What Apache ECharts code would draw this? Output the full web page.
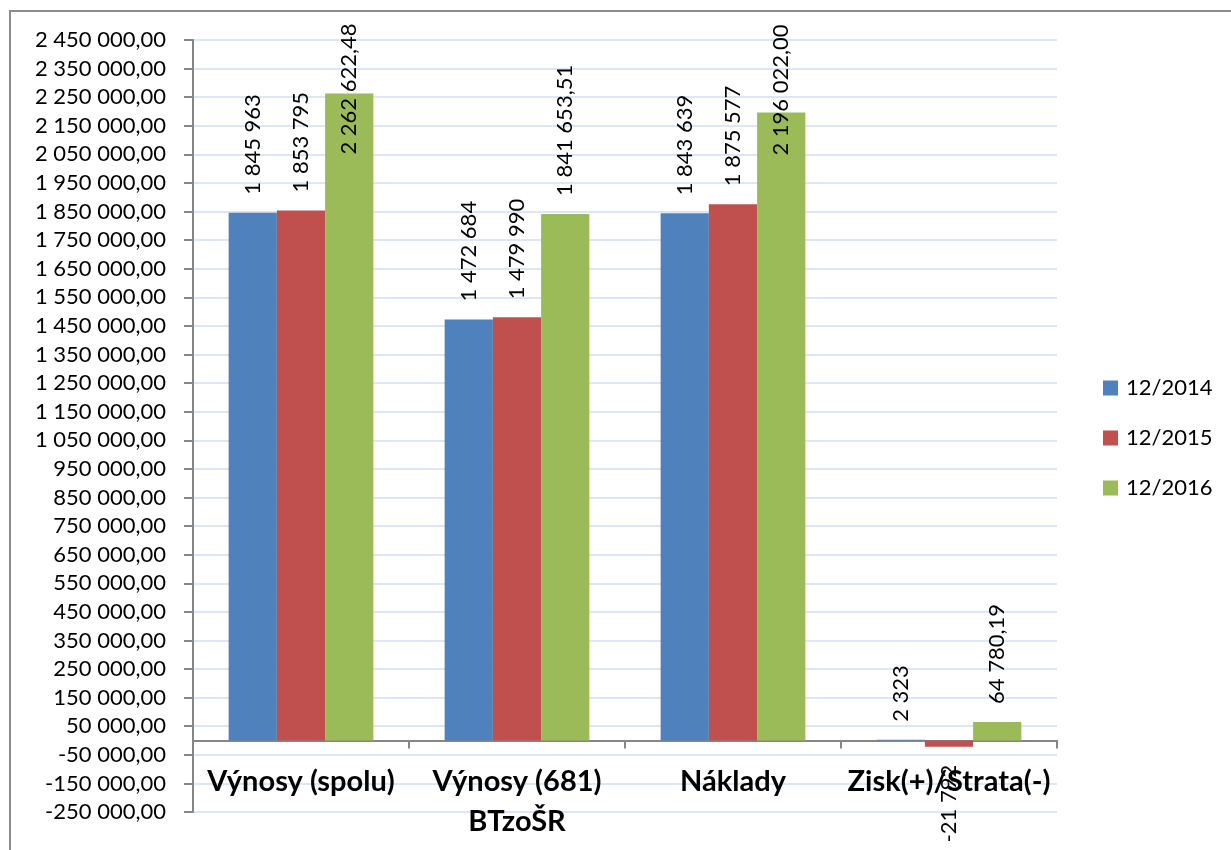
<!DOCTYPE html>
<html>
<head>
<meta charset="utf-8">
<script src="https://cdn.jsdelivr.net/npm/echarts@6/dist/echarts.min.js"></script>
<style>
  html, body { margin: 0; padding: 0; background: #fff; }
  #main { width: 1231px; height: 850px; }
</style>
</head>
<body>
<div id="main"></div>
<script>
// kategórie a hodnoty
var categories = ['Výnosy (spolu)', 'Výnosy (681)\nBTzoŠR', 'Náklady', 'Zisk(+)/Strata(-)'];
var seriesNames = ['12/2014', '12/2015', '12/2016'];
var values2014 = [1845963, 1472684, 1843639, 2323];
var values2015 = [1853795, 1479990, 1875577, -21792];
var values2016 = [2262622.48, 1841653.51, 2196022.00, 64780.19];
var decimals = [0, 0, 2];
var colors = ['#4F81BD', '#C0504D', '#9BBB59'];
var font = 'Lato, "Open Sans", sans-serif';

// posun popisov, ktoré by sa nezmestili nad stĺpec (ako v Exceli)
var labelShift = { '2-0': 79, '2-2': 61 };

function fmt(v, dec) {
    var neg = v < 0;
    var s = Math.abs(v).toFixed(dec);
    var parts = s.split('.');
    var intPart = parts[0].replace(/\B(?=(\d{3})+(?!\d))/g, ' ');
    return (neg ? '-' : '') + intPart + (parts[1] ? ',' + parts[1] : '');
}

function makeSeries(name, vals, idx) {
    return {
        name: name,
        type: 'bar',
        barGap: '0%',
        barCategoryGap: '33%',
        itemStyle: { color: colors[idx] },
        label: {
            show: true,
            position: 'top',
            rotate: 90,
            align: 'left',
            verticalAlign: 'middle',
            distance: 18,
            fontSize: 22,
            fontFamily: font,
            color: '#000',
            formatter: function (p) { return fmt(p.value, decimals[idx]); }
        },
        data: vals.map(function (v, i) {
            if (v < 0) {
                // záporná hodnota - popis pod stĺpcom
                return { value: v, label: { position: 'bottom', align: 'right', distance: 18 } };
            }
            var shift = labelShift[idx + '-' + i];
            if (shift) {
                // offset je v otočenom systéme popisu
                return { value: v, label: { offset: [-shift, 0] } };
            }
            return v;
        })
    };
}

var myChart = echarts.init(document.getElementById('main'));
var option = {
    animation: false,
    graphic: [
        {
            type: 'polyline',
            shape: { points: [[10, 850], [10, 11], [1231, 11]] },
            style: { stroke: '#8c8c8c', lineWidth: 2, fill: null }
        }
    ],
    grid: { left: 193, right: 174, top: 40, bottom: 38, containLabel: false, outerBoundsMode: 'none' },
    legend: {
        orient: 'vertical',
        left: 1098,
        top: 372,
        itemWidth: 15,
        itemHeight: 15,
        itemGap: 28,
        icon: 'rect',
        textStyle: { fontSize: 22, fontFamily: font, color: '#000', padding: [0, 0, 0, 3] },
        data: seriesNames
    },
    xAxis: {
        type: 'category',
        data: categories,
        axisLine: { onZero: true, lineStyle: { color: '#868686', width: 2 } },
        axisTick: { show: true, interval: 0, length: 8, lineStyle: { color: '#868686', width: 2 } },
        axisLabel: {
            interval: 0,
            fontSize: 29,
            fontWeight: 'bold',
            fontFamily: font,
            color: '#000',
            margin: -50,
            lineHeight: 40
        }
    },
    yAxis: {
        type: 'value',
        min: -250000,
        max: 2450000,
        interval: 100000,
        axisLine: { show: true, lineStyle: { color: '#868686', width: 2 } },
        axisTick: { show: true, length: 9, lineStyle: { color: '#868686', width: 2 } },
        splitLine: { show: true, lineStyle: { color: '#dce6f4', width: 2 } },
        axisLabel: {
            fontSize: 22,
            fontFamily: font,
            color: '#000',
            margin: 27,
            formatter: function (v) { return fmt(v, 2); }
        }
    },
    series: [
        makeSeries(seriesNames[0], values2014, 0),
        makeSeries(seriesNames[1], values2015, 1),
        makeSeries(seriesNames[2], values2016, 2)
    ]
};
myChart.setOption(option, true);

window.onresize = function () {
    myChart.resize();
};
</script>
</body>
</html>
